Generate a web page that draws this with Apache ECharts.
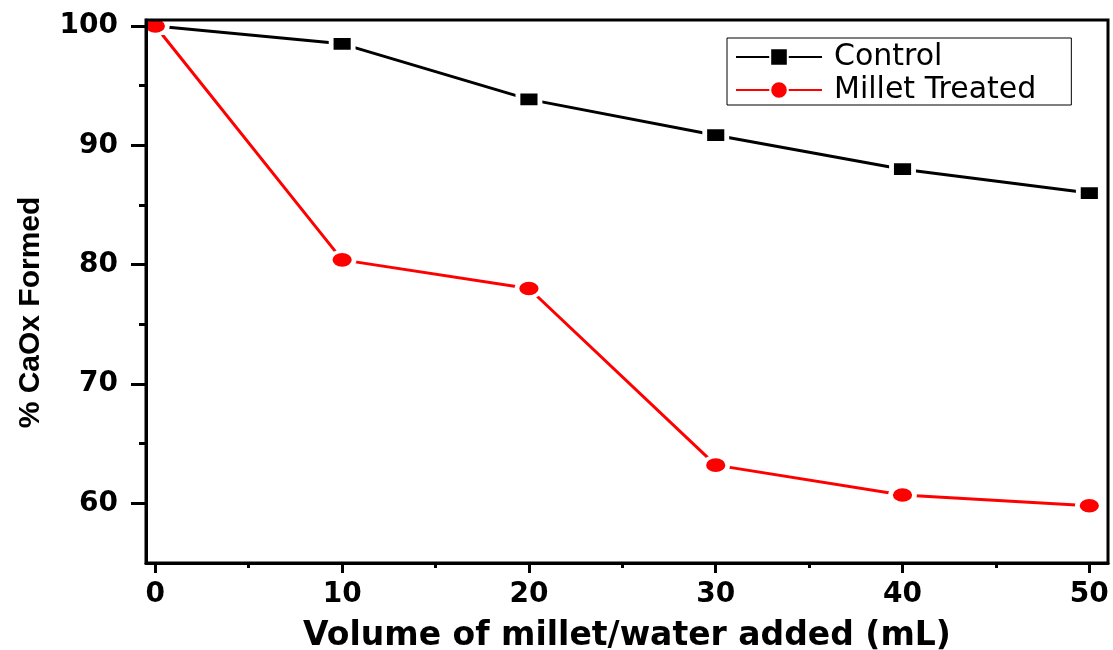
<!DOCTYPE html>
<html>
<head>
<meta charset="utf-8">
<script src="https://cdn.jsdelivr.net/npm/echarts@6/dist/echarts.min.js"></script>
<style>
html,body{margin:0;padding:0;background:#fff;}
#chart{width:1113px;height:650px;}
</style>
</head>
<body>
<div id="chart"></div>
<script>
const volumes = [0, 10, 20, 30, 40, 50];
const controlValues = [100, 98.5, 93.85, 90.85, 88.0, 86.0];
const milletValues = [100, 80.4, 78.0, 63.2, 60.7, 59.8];
const xMajorTicks = [0, 10, 20, 30, 40, 50];
const xMinorTicks = [5, 15, 25, 35, 45];
const yMajorTicks = [60, 70, 80, 90, 100];
const yMinorTicks = [65, 75, 85, 95];
const seriesNames = ['Control', 'Millet Treated'];
const xTitle = 'Volume of millet/water added (mL)';
const yTitle = '% CaOx Formed';

const pairs = (xs, ys) => xs.map((x, i) => [x, ys[i]]);

const chart = echarts.init(document.getElementById('chart'));
const tickFont = {fontFamily: 'DejaVu Sans', fontWeight: 'bold', fontSize: 28, color: '#000'};
chart.setOption({
  animation: false,
  backgroundColor: '#fff',
  grid: {left: 146, right: 5, top: 20, bottom: 87, outerBoundsMode: 'none', containLabel: false,
         show: true, borderColor: '#000', borderWidth: 3, z: 10, backgroundColor: 'transparent'},
  legend: {
    left: 727, top: 38, orient: 'vertical',
    borderColor: '#000', borderWidth: 1,
    padding: [4, 35, 0, 8],
    itemWidth: 86, itemHeight: 22, itemGap: 3,
    textStyle: {fontFamily: 'DejaVu Sans', fontSize: 30, color: '#000', padding: [0, 0, 0, 7]},
    data: seriesNames
  },
  xAxis: [{
    type: 'value', min: -0.5, max: 51, position: 'bottom', z: 10,
    name: xTitle, nameLocation: 'middle', nameGap: 57,
    nameTextStyle: {fontFamily: 'DejaVu Sans', fontWeight: 'bold', fontSize: 33, color: '#000'},
    axisLine: {show: true, onZero: false, lineStyle: {color: '#000', width: 3}},
    axisTick: {show: true, length: 10, customValues: xMajorTicks, lineStyle: {color: '#000', width: 3}},
    axisLabel: Object.assign({margin: 18, customValues: xMajorTicks}, tickFont),
    splitLine: {show: false}
  }, {
    type: 'value', min: -0.5, max: 51, position: 'bottom', z: 10,
    axisLine: {show: false, onZero: false},
    axisTick: {show: true, length: 5, customValues: xMinorTicks, lineStyle: {color: '#000', width: 3}},
    axisLabel: {show: false},
    splitLine: {show: false}
  }],
  yAxis: [{
    type: 'value', min: 55, max: 100.5, position: 'left', z: 10,
    name: yTitle, nameLocation: 'middle', nameGap: 100, nameRotate: 90,
    nameTextStyle: {fontFamily: 'Liberation Sans', fontWeight: 'bold', fontSize: 30, color: '#000', padding: [0, 42, 0, 0]},
    axisLine: {show: true, onZero: false, lineStyle: {color: '#000', width: 3}},
    axisTick: {show: true, length: 15, customValues: yMajorTicks, lineStyle: {color: '#000', width: 3}},
    axisLabel: Object.assign({margin: 28, customValues: yMajorTicks}, tickFont),
    splitLine: {show: false}
  }, {
    type: 'value', min: 55, max: 100.5, position: 'left', z: 10,
    axisLine: {show: false, onZero: false},
    axisTick: {show: true, length: 7, customValues: yMinorTicks, lineStyle: {color: '#000', width: 3}},
    axisLabel: {show: false},
    splitLine: {show: false}
  }],
  series: [{
    name: seriesNames[0], type: 'line', xAxisIndex: 0, yAxisIndex: 0, clip: false,
    data: pairs(volumes, controlValues),
    symbol: 'rect', symbolSize: [22, 15],
    lineStyle: {color: '#000', width: 3},
    itemStyle: {color: '#000', borderColor: '#fff', borderWidth: 4}
  }, {
    name: seriesNames[1], type: 'line', xAxisIndex: 0, yAxisIndex: 0, clip: false,
    data: pairs(volumes, milletValues),
    symbol: 'circle', symbolSize: [24, 17],
    lineStyle: {color: '#ff0000', width: 3},
    itemStyle: {color: '#ff0000', borderColor: '#fff', borderWidth: 4}
  }]
});
</script>
</body>
</html>
